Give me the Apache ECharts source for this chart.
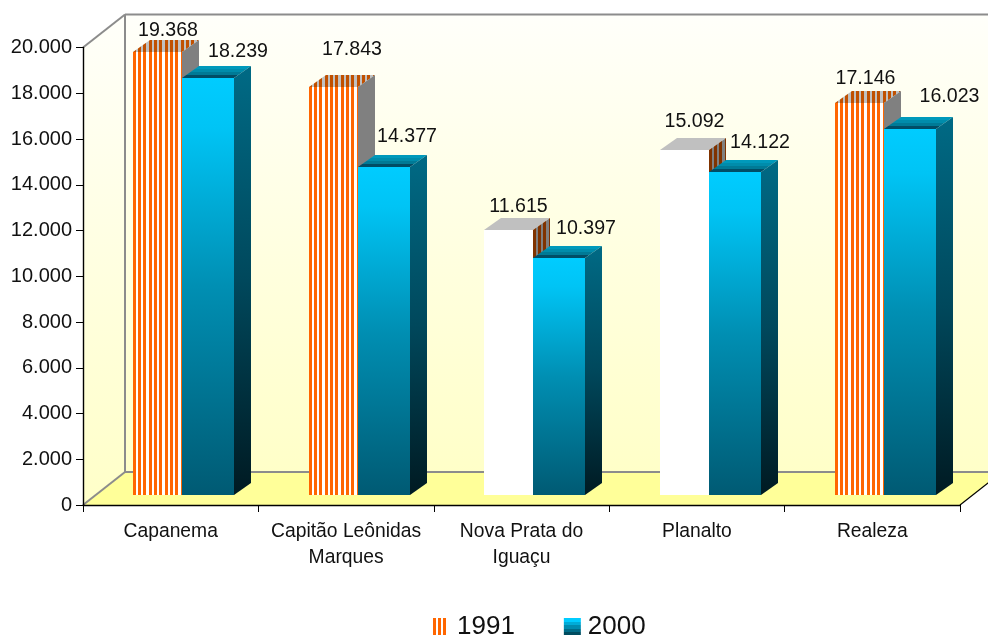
<!DOCTYPE html>
<html>
<head>
<meta charset="utf-8">
<style>html,body{margin:0;padding:0;background:#fff}#c{width:988px;height:635px}</style>
<script src="https://cdn.jsdelivr.net/npm/echarts@6/dist/echarts.min.js"></script>
</head>
<body>
<div id="c"></div>
<script>
const categories = ['Capanema', 'Capitão Leônidas\nMarques', 'Nova Prata do\nIguaçu', 'Planalto', 'Realeza'];
const values1991 = [19368, 17843, 11615, 15092, 17146];
const values2000 = [18239, 14377, 10397, 14122, 16023];
const yTicks = { min: 0, max: 20000, interval: 2000 };

// Appearance and layout (not data)
const FONT = '"Liberation Sans", Arial, sans-serif';
const WALL = { dx: 42, dy: 33 };
const BAR = { dx: 17, dy: 12, shiftX: 11.7, shiftY: 9.6, w1991: 49, w2000: 52 };
const stripedFront = [true, true, false, false, true];
const nudge1991 = [[10.5, -21.5], [18.5, -37], [10, -23], [10, -28.5], [6, -24]];
const nudge2000 = [[30, -26.5], [23, -30], [27, -29], [25, -29], [39.5, -32]];

function tile(on, off, cols) {
  const c = document.createElement('canvas');
  c.width = cols.length; c.height = 4;
  const g = c.getContext('2d');
  cols.split('').forEach((k, i) => { g.fillStyle = k === 'x' ? on : off; g.fillRect(i, 0, 1, 4); });
  return { image: c, repeat: 'repeat' };
}
const STRIPE = 'xxx..xxx..xxx...';
const patFront = tile('#FF6600', '#FFFFFF', STRIPE);
const patTop = tile('#C05000', '#C0C0C0', STRIPE);
const patSide = tile('#803300', '#808080', STRIPE);
const patLegend = tile('#FF6600', '#FFFFFF', 'xxx..xxx..xxx....');

const vGrad = (stops) => ({ type: 'linear', x: 0, y: 0, x2: 0, y2: 1,
  colorStops: stops.map(s => ({ offset: s[0], color: s[1] })) });
const bands = (cols) => vGrad(cols.flatMap((c, i) => [[i / cols.length, c], [(i + 1) / cols.length, c]]));

const gradFront = vGrad([[0, '#00CCFF'], [0.12, '#00C4F5'], [0.5, '#008FB3'], [1, '#005A73']]);
const gradSide = vGrad([[0, '#006A85'], [0.5, '#00485C'], [1, '#001A22']]);
const gradTop = bands(['#0099BB', '#008CAB', '#007A96', '#004D66']);
const legendBlue = bands(['#00CCFF', '#00ACD8', '#008CB0', '#006C88', '#004C60']);
const gradWall = vGrad([[0, '#FFFFFA'], [1, '#FFFFC8']]);

const fmt = v => String(v).replace(/\B(?=(\d{3})+$)/g, '.');

function poly(pts, fill) {
  return { type: 'polygon', shape: { points: pts }, style: { fill: fill }, silent: true };
}
// A polygon placed so that its fill pattern starts at the left edge of the face
function patPoly(pts, fill) {
  const ox = Math.min.apply(null, pts.map(p => p[0]));
  const oy = Math.min.apply(null, pts.map(p => p[1]));
  return { type: 'polygon', x: ox, y: oy, shape: { points: pts.map(p => [p[0] - ox, p[1] - oy]) },
    style: { fill: fill }, silent: true };
}

function renderChrome(params, api) {
  const cs = params.coordSys;
  const x0 = cs.x, y0 = cs.y, x1 = cs.x + cs.width, y1 = cs.y + cs.height;
  const dx = WALL.dx, dy = WALL.dy;
  const line = (a, b) => ({ type: 'line', shape: { x1: a[0], y1: a[1], x2: b[0], y2: b[1] },
    style: { stroke: '#8C8C8C', lineWidth: 2 }, silent: true });
  return { type: 'group', children: [
    { type: 'rect', shape: { x: x0 + dx, y: y0 - dy, width: cs.width, height: cs.height }, style: { fill: gradWall }, silent: true },
    poly([[x0, y0], [x0 + dx, y0 - dy], [x0 + dx, y1 - dy], [x0, y1]], gradWall),
    poly([[x0, y1], [x0 + dx, y1 - dy], [x1 + dx, y1 - dy], [x1, y1]], '#FFFF99'),
    line([x0, y0], [x0 + dx, y0 - dy]),
    line([x0 + dx, y0 - dy], [x1 + dx, y0 - dy]),
    line([x0 + dx, y0 - dy], [x0 + dx, y1 - dy]),
    line([x0 + dx, y1 - dy], [x1 + dx, y1 - dy]),
    line([x0, y1], [x0 + dx, y1 - dy]),
    { type: 'line', shape: { x1: x1, y1: y1, x2: x1 + dx, y2: y1 - dy }, style: { stroke: '#000', lineWidth: 1.2 }, silent: true }
  ] };
}

function barFaces(api, left, width, paint, nudge) {
  const i = api.value(0), v = api.value(1);
  const top = api.coord([i, v]), base = api.coord([i, 0]);
  const xc = top[0] + BAR.shiftX;
  const xl = Math.round(xc + left), xr = xl + width;
  const yt = Math.round(top[1] - BAR.shiftY), yb = Math.round(base[1] - BAR.shiftY);
  const dx = BAR.dx, dy = BAR.dy;
  const topPts = [[xl, yt], [xl + dx, yt - dy], [xr + dx, yt - dy], [xr, yt]];
  const sidePts = [[xr, yt], [xr + dx, yt - dy], [xr + dx, yb - dy], [xr, yb]];
  const frontPts = [[xl, yt], [xr, yt], [xr, yb], [xl, yb]];
  const faces = paint(i, topPts, sidePts, frontPts);
  faces.push({ type: 'text', silent: true,
    x: xl + width / 2 + nudge[i][0], y: yt + nudge[i][1],
    style: { text: fmt(v), font: '19.6px ' + FONT, fill: '#111', align: 'center', verticalAlign: 'middle' } });
  return { type: 'group', children: faces };
}

function render1991(params, api) {
  return barFaces(api, -BAR.w1991, BAR.w1991, (i, t, s, f) => {
    if (stripedFront[i]) return [patPoly(t, patTop), poly(s, '#808080'), patPoly(f, patFront)];
    return [poly(t, '#C0C0C0'), patPoly(s, patSide), poly(f, '#FFFFFF')];
  }, nudge1991);
}
function render2000(params, api) {
  return barFaces(api, 0, BAR.w2000, (i, t, s, f) => [poly(t, gradTop), poly(s, gradSide), poly(f, gradFront)], nudge2000);
}

const chart = echarts.init(document.getElementById('c'), null, { renderer: 'canvas' });
chart.setOption({
  animation: false,
  backgroundColor: '#fff',
  textStyle: { fontFamily: FONT },
  grid: { left: 83, right: 28, top: 47.5, bottom: 130, containLabel: false },
  xAxis: {
    type: 'category', data: categories, z: 5,
    axisLine: { lineStyle: { color: '#000', width: 1.4 } },
    axisTick: { show: true, length: 7, alignWithLabel: false, lineStyle: { color: '#000', width: 1 } },
    axisLabel: { interval: 0, margin: 14, fontSize: 19.3, lineHeight: 26, color: '#111', fontFamily: FONT }
  },
  yAxis: {
    type: 'value', min: yTicks.min, max: yTicks.max, interval: yTicks.interval, z: 5,
    axisLine: { show: true, lineStyle: { color: '#000', width: 1.4 } },
    axisTick: { show: true, length: 7, lineStyle: { color: '#000', width: 1 } },
    splitLine: { show: false },
    axisLabel: { margin: 11, fontSize: 20, color: '#111', fontFamily: FONT, padding: [0, 0, 4, 0], formatter: fmt }
  },
  legend: {
    left: 433, top: 614, padding: 0, itemWidth: 17, itemHeight: 18, itemGap: 49,
    selectedMode: false,
    textStyle: { fontSize: 26, color: '#111', fontFamily: FONT, padding: [0, 0, 0, 2] },
    data: [
      { name: '1991', icon: 'rect', itemStyle: { color: patLegend } },
      { name: '2000', icon: 'rect', itemStyle: { color: legendBlue } }
    ]
  },
  series: [
    { type: 'custom', name: 'walls', z: 1, silent: true, data: [[0, 0]], encode: { x: 0, y: 1 }, renderItem: renderChrome },
    { type: 'custom', name: '1991', z: 2, silent: true, encode: { x: 0, y: 1 }, renderItem: render1991,
      itemStyle: { color: '#FF6600' }, data: values1991.map((v, i) => [i, v]) },
    { type: 'custom', name: '2000', z: 3, silent: true, encode: { x: 0, y: 1 }, renderItem: render2000,
      itemStyle: { color: '#00CCFF' }, data: values2000.map((v, i) => [i, v]) }
  ]
});
</script>
</body>
</html>
